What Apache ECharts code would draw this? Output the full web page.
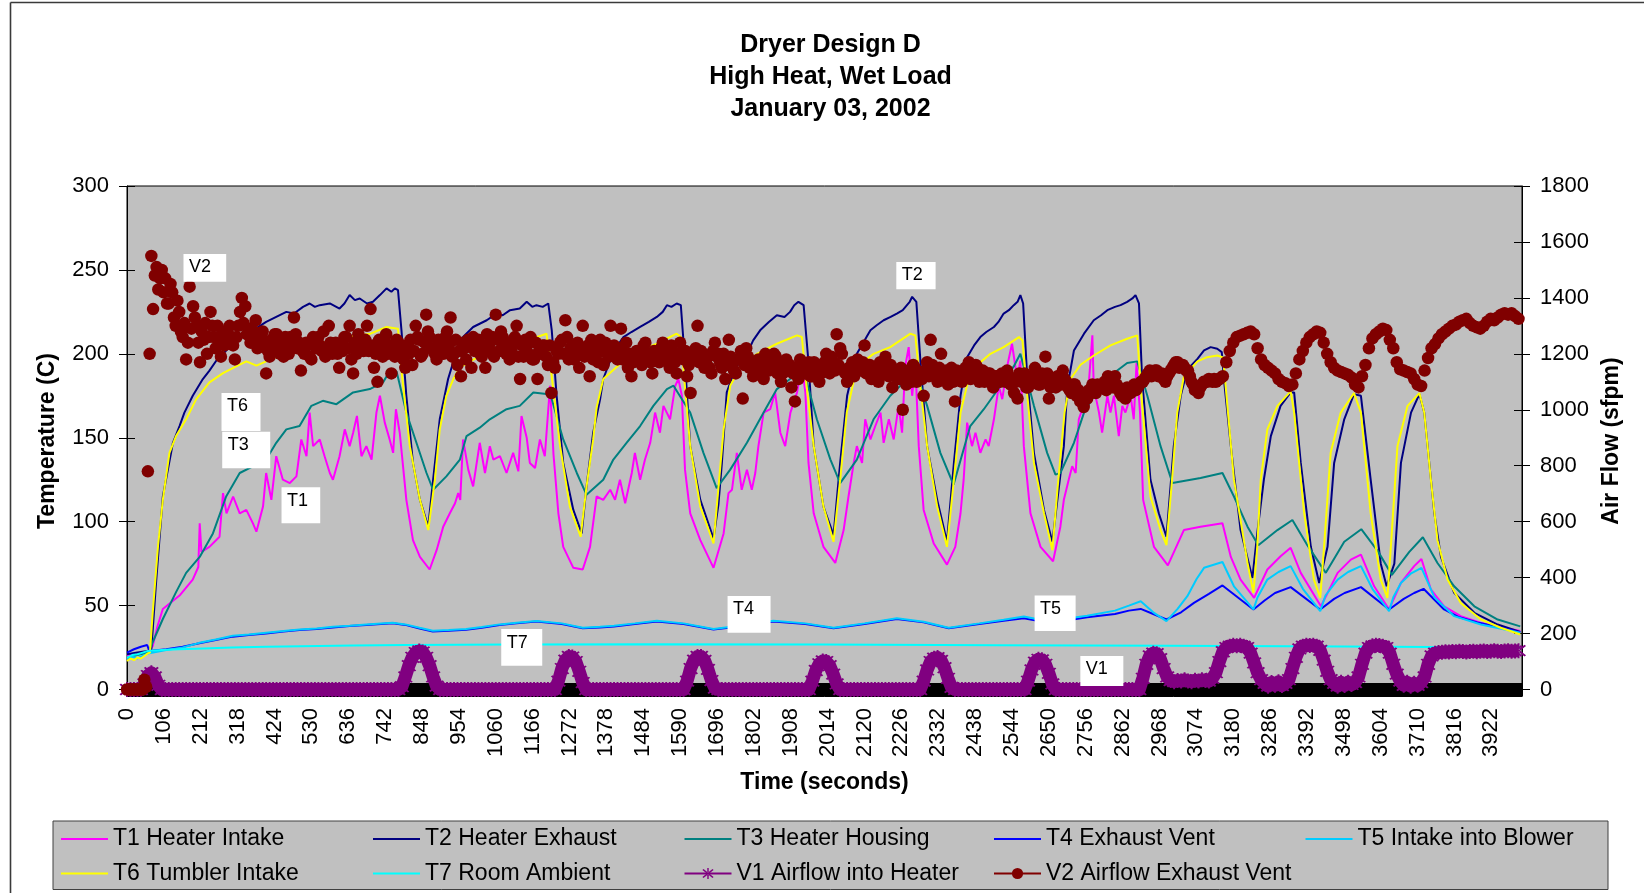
<!DOCTYPE html>
<html>
<head>
<meta charset="utf-8">
<title>Dryer Design D</title>
<script src="https://cdn.jsdelivr.net/npm/echarts@6/dist/echarts.min.js"></script>
<style>
  html, body { margin: 0; padding: 0; background: #ffffff; }
  #chart { width: 1644px; height: 893px; }
</style>
</head>
<body>
<div id="chart"></div>
<script>
// ---- Axis tick labels ----
const TIME_TICKS = [0,106,212,318,424,530,636,742,848,954,1060,1166,1272,1378,1484,1590,1696,1802,1908,2014,2120,2226,2332,2438,2544,2650,2756,2862,2968,3074,3180,3286,3392,3498,3604,3710,3816,3922];
const TEMP_TICKS = [0,50,100,150,200,250,300];
const FLOW_TICKS = [0,200,400,600,800,1000,1200,1400,1600,1800];

// ---- Temperatures (C): [time s, value] ----
const t1HeaterIntake = [
[0,20],[20,21],[40,21.5],[60,22],[74,26],[88,38],[103,48],[127,52],[151,56],[189,65.5],[205,73],[209,99],[214,82],[237,85],[266,91],[276,117],[286,105],[305,115],[324,105],[343,107],[362,99],[372,94],[391,109],[400,129],[415,113],[429,139],[448,125],[468,123],[487,127],[501,149],[516,139],[525,165],[535,145],[554,149],[568,139],[583,129],[592,125],[611,139],[626,155],[640,145],[650,153],[661,163],[674,139],[688,145],[703,137],[717,165],[727,175],[741,159],[755,149],[765,141],[773,167],[784,153],[803,113],[822,89],[842,79],[870,71.5],[890,83],[909,97],[928,105],[943,111],[952,117],[958,113],[966,149],[981,131],[995,121],[1014,147],[1029,129],[1043,145],[1053,137],[1072,139],[1091,129],[1110,141],[1125,130],[1134,163],[1149,150],[1158,135],[1173,132],[1187,149],[1201,139],[1216,181],[1226,140],[1240,105],[1254,85],[1283,72.5],[1310,71.5],[1331,85],[1350,115],[1369,113],[1389,119],[1403,113],[1417,125],[1432,111],[1451,129],[1460,141],[1475,125],[1489,137],[1504,147],[1518,165],[1532,153],[1542,169],[1561,161],[1576,181],[1585,185],[1595,175],[1604,131],[1619,105],[1648,89],[1686,72.5],[1715,93],[1729,117],[1739,119],[1753,141],[1767,119],[1782,131],[1796,119],[1806,129],[1815,145],[1830,165],[1849,167],[1863,177],[1878,153],[1892,145],[1907,165],[1926,177],[1940,192.5],[1950,177],[1959,135],[1974,105],[2002,85],[2036,75.4],[2060,95],[2074,115],[2089,135],[2098,145],[2113,135],[2122,161],[2137,149],[2151,157],[2166,165],[2175,147],[2190,161],[2204,149],[2218,169],[2228,153],[2237,192.5],[2247,204],[2257,175],[2266,194.5],[2276,145],[2290,107],[2319,87],[2357,74.4],[2381,85],[2396,105],[2405,125],[2415,159],[2429,145],[2439,153],[2453,141],[2468,149],[2477,145],[2492,161],[2506,181],[2516,173],[2530,192.5],[2544,206],[2559,185],[2568,196],[2578,145],[2597,105],[2626,85],[2662,76.4],[2683,97],[2693,113],[2707,125],[2717,133],[2727,129],[2736,161],[2746,167],[2760,169],[2775,211],[2779,180],[2794,165],[2803,153],[2818,175],[2827,165],[2837,175],[2851,151],[2861,169],[2870,165],[2885,175],[2894,161],[2902,194.5],[2912,165],[2921,113],[2952,85],[2992,74],[3038,95],[3086,97],[3149,99],[3173,79],[3201,65.5],[3240,54.6],[3278,71.5],[3316,79.4],[3345,84.4],[3374,69.5],[3432,49.6],[3480,69.5],[3518,77.4],[3547,80.4],[3585,61.5],[3628,47.7],[3662,63.5],[3700,73.5],[3721,77.8],[3748,59.6],[3786,49.6],[3834,43.7],[3892,39.7],[4005,34.8]
];
const t2HeaterExhaust = [
[0,21],[30,22],[60,23],[70,24],[84,65],[103,115],[132,147],[151,157],[165,165],[189,175],[218,185],[237,190],[257,196],[290,203],[330,210],[370,215],[400,219],[429,222],[458,225],[480,224],[506,228],[525,230],[540,228],[554,229],[583,230],[611,227],[625,230],[640,235],[655,232],[669,233],[690,230],[707,231],[727,235],[746,239],[760,237],[770,239],[779,238],[789,214],[803,175],[822,135],[842,113],[866,97],[880,125],[899,161],[923,185],[945,200],[966,210],[995,216],[1034,220],[1062,224],[1080,223],[1101,226],[1129,227],[1149,231],[1165,228],[1177,229],[1195,228],[1211,230],[1221,214],[1235,175],[1254,135],[1283,107],[1307,93],[1321,121],[1340,153],[1360,173],[1369,185],[1400,202],[1427,210],[1450,213],[1475,216],[1500,219],[1523,222],[1540,225],[1552,229],[1565,228],[1580,230],[1592,229],[1604,195],[1619,145],[1648,113],[1686,90],[1700,110],[1710,135],[1724,177],[1750,192],[1782,200],[1800,208],[1820,214],[1845,219],[1868,223],[1890,222],[1906,225],[1918,229],[1930,231],[1945,229],[1959,195],[1974,145],[2002,109],[2031,92],[2050,135],[2070,175],[2098,200],[2120,208],[2137,214],[2155,217],[2175,220],[2195,222],[2213,224],[2230,226],[2242,229],[2250,231],[2257,234],[2269,231],[2281,195],[2300,145],[2329,113],[2357,88],[2377,135],[2396,175],[2415,198],[2435,205],[2453,210],[2470,213],[2492,216],[2505,219],[2520,224],[2535,226],[2549,229],[2560,231],[2568,235],[2576,230],[2588,185],[2607,141],[2636,107],[2660,88],[2693,145],[2703,180],[2722,202],[2751,212],[2779,220],[2800,223],[2818,226],[2840,228],[2856,229],[2875,231],[2890,233],[2899,235],[2909,230],[2918,185],[2942,125],[2966,105],[2988,91],[3009,145],[3029,175],[3048,190.5],[3077,197],[3096,202],[3115,204],[3134,203],[3147,201],[3153,185],[3173,145],[3201,95],[3235,66.5],[3250,95],[3268,125],[3288,151],[3316,169],[3345,177],[3355,177],[3374,135],[3403,85],[3427,63.5],[3451,85],[3470,135],[3499,161],[3527,176],[3547,175],[3575,125],[3604,75],[3621,61.5],[3643,75],[3662,135],[3691,165],[3715,176],[3729,165],[3758,105],[3777,79],[3815,57.6],[3873,45.7],[3940,38.7],[4005,34.3]
];
const t3HeaterHousing = [
[0,19],[30,20.5],[60,22],[65,24],[103,42],[141,58],[170,69.5],[209,79],[247,93],[285,115],[324,129],[362,133],[400,137],[429,147],[458,155],[496,157],[530,169],[563,172],[602,170],[650,177],[698,179],[736,183],[746,186.5],[775,189.5],[803,165],[832,147],[861,129],[880,119],[918,127],[957,137],[976,151],[1014,156],[1043,161],[1091,167],[1129,169],[1168,177],[1206,176],[1221,173],[1254,149],[1293,129],[1321,116],[1369,125],[1398,137],[1436,147],[1475,157],[1513,169],[1552,179],[1571,181],[1619,165],[1657,141],[1695,120],[1734,131],[1782,147],[1830,165],[1868,179],[1906,185],[1945,190.5],[1983,161],[2022,137],[2050,123],[2098,137],[2146,161],[2194,175],[2233,183],[2261,194.5],[2300,169],[2338,141],[2376,122],[2424,157],[2463,167],[2511,181],[2549,192.5],[2568,200],[2607,169],[2645,141],[2669,128],[2683,129],[2722,147],[2751,165],[2800,182],[2840,189],[2875,194.5],[2904,195.5],[2933,175],[2971,145],[3005,123],[3086,126],[3149,129],[3182,115],[3221,97],[3252,86],[3307,95],[3350,101],[3393,86],[3446,69.5],[3499,88],[3548,95.5],[3597,82],[3636,68.3],[3686,82],[3725,90.7],[3767,75.4],[3815,61.5],[3873,49.6],[3940,41.7],[4005,37.6]
];
const t4ExhaustVent = [
[0,22],[20,24],[40,25.5],[58,26.5],[64,23],[113,24],[160,25.5],[208,27.5],[255,29.5],[304,31.5],[350,32.5],[400,33.4],[450,34.5],[496,35.4],[545,36],[592,37],[640,37.8],[688,38.4],[730,39],[764,39.5],[800,38.5],[841,36.4],[879,34.6],[925,35],[975,35.6],[1020,36.8],[1071,38.4],[1120,39.5],[1177,40.5],[1250,39],[1310,36.5],[1360,37],[1400,37.5],[1460,39],[1523,40.5],[1600,39],[1686,35.8],[1760,37.5],[1858,40.5],[1950,39],[2031,36.5],[2120,39],[2213,42],[2290,40],[2362,36.5],[2450,39],[2520,41],[2578,42.5],[2640,40],[2683,40.5],[2760,43],[2840,45],[2880,47],[2914,48],[2950,45],[2988,41.7],[3030,46],[3067,51.6],[3110,57],[3149,62],[3238,47.7],[3270,53],[3300,57.5],[3345,61],[3430,47.7],[3470,54],[3500,57.5],[3547,61],[3628,47.7],[3670,54],[3700,57.5],[3727,60],[3786,47.7],[3830,43],[3882,40],[3950,37],[4005,34]
];
const t5IntakeBlower = [
[0,18],[15,19.5],[30,18.5],[45,20],[60,21.5],[113,23.5],[160,25],[208,27.8],[255,29.8],[304,32],[350,32.8],[400,33.8],[450,34.8],[496,35.8],[545,36.4],[592,37.4],[640,38],[688,38.8],[730,39.4],[764,39.8],[800,38.8],[841,36.8],[879,35],[925,35.4],[975,36],[1020,37.2],[1071,38.8],[1120,39.8],[1177,40.8],[1250,39.4],[1310,36.8],[1360,37.4],[1400,38],[1460,39.4],[1523,41],[1600,39.4],[1686,36],[1760,38],[1858,41],[1950,39.4],[2031,36.8],[2120,39.4],[2213,42.5],[2290,40.4],[2362,36.8],[2450,39.4],[2520,41.6],[2578,43.5],[2640,41],[2683,41.7],[2760,44],[2840,47],[2880,50],[2914,52.6],[2950,46],[2988,40.7],[3020,48],[3048,55.6],[3075,66],[3096,72.5],[3149,76],[3182,61.5],[3238,47.7],[3250,55],[3278,65.5],[3310,70],[3345,73.5],[3380,60],[3430,46.7],[3445,56],[3480,65.5],[3510,70],[3547,73.5],[3580,60],[3628,46.7],[3640,55],[3662,63.5],[3690,69],[3721,72.5],[3758,55],[3815,43.7],[3892,38.7],[4005,33.8]
];
const t6TumblerIntake = [
[0,17],[10,18.5],[20,17.5],[30,19],[40,18.5],[50,20],[60,21.5],[66,22],[74,46],[89,85],[103,113],[122,141],[141,151],[170,161],[199,173],[237,183],[276,188.5],[314,192.5],[343,195.5],[372,193],[450,200],[530,205],[631,210],[700,212],[746,216],[779,215],[789,190],[813,145],[842,113],[866,95],[885,125],[899,155],[918,175],[938,185],[957,192],[1050,203],[1150,208],[1206,212],[1216,195],[1245,145],[1273,109],[1304,91],[1321,121],[1340,149],[1350,168],[1369,185],[1450,200],[1523,206],[1580,212],[1592,210],[1604,180],[1619,145],[1648,109],[1686,87],[1700,120],[1715,155],[1734,181],[1763,192],[1811,200],[1868,206],[1926,211],[1940,210],[1954,180],[1974,145],[2002,109],[2031,88],[2050,125],[2069,165],[2098,192.5],[2146,200],[2194,204],[2252,212],[2266,211],[2281,180],[2300,145],[2329,109],[2357,85],[2377,125],[2396,165],[2425,190],[2482,200],[2520,204],[2564,210],[2574,208],[2588,175],[2607,135],[2636,105],[2660,83],[2675,120],[2695,165],[2712,185],[2741,193.5],[2779,199],[2827,205],[2875,209],[2904,211],[2918,170],[2942,115],[2971,95],[2988,86],[3004,125],[3019,165],[3038,186.5],[3077,195.5],[3105,198],[3134,199],[3149,198],[3153,192.5],[3182,125],[3221,75.4],[3238,57.6],[3249,85],[3259,125],[3278,155],[3307,169],[3345,177.6],[3355,165],[3384,105],[3412,65.5],[3430,54.6],[3441,85],[3460,141],[3489,165],[3527,176.6],[3547,165],[3575,105],[3604,65.5],[3623,54.6],[3633,85],[3652,145],[3681,169],[3715,176.6],[3729,165],[3748,125],[3767,89],[3796,65.5],[3834,51.6],[3892,41.7],[3949,36.8],[4005,32.8]
];
const t7RoomAmbient = [
[0,19],[15,20.5],[30,21],[45,22],[60,23],[100,23.5],[150,24],[220,24.5],[300,25],[400,25.4],[500,25.8],[650,26.2],[800,26.5],[1100,26.8],[1500,27],[2000,26.8],[2500,26.4],[3000,26],[3500,25.6],[3750,25.3],[4005,25]
];

// ---- Air flow (sfpm) ----
// readings every 10 s starting at 0 s
const FLOW_STEP = 10;
const v1AirflowHeater = [
0,0,0,0,0,20,50,60,45,15,
0,0,0,0,0,0,0,0,0,0,
0,0,0,0,0,0,0,0,0,0,
0,0,0,0,0,0,0,0,0,0,
0,0,0,0,0,0,0,0,0,0,
0,0,0,0,0,0,0,0,0,0,
0,0,0,0,0,0,0,0,0,0,
0,0,0,0,0,0,0,0,0,10,
45,85,115,132,138,134,115,85,45,12,
0,0,0,0,0,0,0,0,0,0,
0,0,0,0,0,0,0,0,0,0,
0,0,0,0,0,0,0,0,0,0,
0,0,0,0,30,75,105,118,116,100,
65,25,0,0,0,0,0,0,0,0,
0,0,0,0,0,0,0,0,0,0,
0,0,0,0,0,0,0,0,0,0,
0,30,75,105,118,118,104,72,32,5,
0,0,0,0,0,0,0,0,0,0,
0,0,0,0,0,0,0,0,0,0,
0,0,0,0,0,0,0,30,68,92,
102,100,85,55,20,0,0,0,0,0,
0,0,0,0,0,0,0,0,0,0,
0,0,0,0,0,0,0,0,0,30,
70,100,112,114,104,78,40,8,0,0,
0,0,0,0,0,0,0,0,0,0,
0,0,0,0,0,0,0,0,0,30,
70,98,108,106,90,58,20,0,0,0,
0,0,0,0,0,0,0,0,0,0,
0,0,0,0,0,0,0,0,0,0,
0,0,40,90,120,130,128,110,75,45,
32,28,32,30,35,30,28,33,30,35,
32,30,40,60,100,135,150,155,158,156,
158,155,150,130,95,60,35,22,12,25,
15,28,14,22,35,75,115,145,155,158,
157,158,155,140,105,65,35,22,12,26,
14,26,18,25,45,90,130,150,156,158,
157,155,150,130,90,55,30,15,26,12,
22,15,25,45,90,120,130,132,133,135,
134,136,135,137,136,134,136,137,135,137,
138,136,137,139,137,136,138,139,137,138,
139
];
const v2AirflowExhaust = [
0,0,0,0,0,35,780,1550,1480,1430,
1500,1470,1380,1420,1300,1350,1260,1180,1440,1370,
1300,1170,1250,1200,1350,1260,1300,1190,1230,1270,
1260,1180,1300,1400,1370,1290,1260,1320,1230,1280,
1130,1190,1240,1270,1200,1190,1230,1260,1330,1220,
1140,1200,1230,1180,1250,1260,1210,1190,1300,1200,
1240,1150,1210,1260,1300,1130,1200,1250,1210,1300,
1360,1150,1100,1220,1250,1200,1130,1190,1240,1230,
1150,1200,1160,1300,1250,1200,1340,1260,1220,1180,
1240,1200,1280,1330,1200,1160,1120,1220,1250,1150,
1210,1250,1190,1150,1230,1260,1340,1210,1260,1200,
1180,1240,1300,1110,1190,1230,1260,1180,1110,1200,
1230,1160,1060,1150,1200,1250,1320,1180,1230,1210,
1150,1300,1200,1120,1180,1220,1250,1160,1200,1300,
1230,1180,1290,1200,1150,1120,1190,1210,1160,1240,
1180,1130,1200,1170,1240,1190,1150,1200,1130,1240,
1180,1120,1060,1180,1300,1210,1150,1190,1130,1240,
1200,1150,1110,1250,1170,1130,1180,1040,1220,1150,
1120,1170,1140,1110,1180,1150,1200,1130,1100,1170,
1140,1080,1030,1110,1160,1130,1170,1120,1150,1100,
1160,1200,1130,1170,1270,1220,1140,1100,1150,1120,
1180,1140,1230,1160,1110,1150,1100,1130,1190,1120,
1080,1140,1110,1000,1090,1130,1160,1100,1130,1050,
1170,1250,1140,1100,1200,1130,1090,1150,1030,1120,
1100,1150,1170,1120,1160,1100,1140,1110,1130,1080,
1120,1100,1110,1140,1090,1060,1040,1100,1130,1080,
1120,1150,1090,1130,1190,1040,1100,1080,1120,1140,
1100,1070,1090,1050,1030,1010,1040,1060,1080,1090,
1080,1100,1120,1110,1120,1080,1050,1040,1060,1080,
1070,1090,1100,1120,1140,1130,1140,1120,1110,1120,
1140,1160,1170,1160,1150,1140,1100,1070,1060,1090,
1100,1110,1100,1100,1110,1120,1170,1210,1240,1260,
1265,1270,1275,1280,1270,1220,1180,1160,1150,1140,
1130,1110,1100,1095,1085,1090,1130,1180,1210,1240,
1260,1270,1280,1275,1240,1200,1170,1150,1140,1135,
1130,1125,1115,1090,1080,1120,1160,1220,1255,1270,
1280,1290,1285,1250,1220,1170,1145,1140,1135,1130,
1110,1090,1085,1140,1185,1220,1235,1255,1270,1280,
1290,1300,1305,1315,1320,1325,1310,1300,1295,1290,
1300,1315,1325,1320,1330,1340,1345,1340,1345,1335,
1325
];
// exhaust readings taken 5 s after each 10 s mark, up to 3145 s
const V2_HALF_OFFSET = 5;
const v2AirflowExhaustHalf = [
0,0,0,0,0,10,1200,1360,1510,1470,
1420,1380,1450,1330,1390,1280,1310,1240,1290,1330,
1240,1280,1310,1260,1300,1220,1250,1280,1240,1300,
1230,1260,1350,1310,1270,1240,1280,1220,1260,1240,
1210,1250,1270,1220,1240,1260,1200,1230,1270,1240,
1210,1240,1190,1260,1220,1230,1280,1210,1240,1230,
1200,1230,1260,1220,1180,1240,1270,1220,1250,1210,
1230,1200,1250,1190,1270,1230,1210,1250,1200,1180,
1230,1250,1210,1260,1190,1240,1280,1220,1200,1250,
1220,1260,1230,1190,1250,1210,1240,1180,1230,1260,
1240,1200,1230,1270,1210,1190,1250,1280,1220,1240,
1210,1260,1190,1230,1250,1200,1180,1240,1210,1230,
1190,1230,1170,1210,1240,1200,1260,1220,1180,1240,
1220,1190,1230,1250,1200,1170,1210,1240,1190,1220,
1200,1220,1180,1240,1200,1170,1210,1190,1230,1200,
1170,1210,1190,1220,1180,1200,1230,1170,1200,1190,
1210,1160,1190,1220,1170,1200,1180,1150,1210,1190,
1170,1200,1160,1190,1140,1180,1210,1160,1190,1170,
1150,1180,1160,1200,1140,1170,1190,1150,1130,1180,
1160,1130,1150,1180,1140,1160,1120,1170,1150,1130,
1170,1150,1190,1140,1160,1200,1130,1150,1170,1140,
1150,1170,1130,1160,1140,1120,1170,1150,1130,1160,
1130,1110,1150,1120,1140,1100,1150,1130,1110,1140,
1120,1160,1130,1150,1110,1140,1120,1100,1140,1130,
1120,1140,1110,1130,1150,1120,1100,1130,1110,1120,
1110,1130,1100,1120,1090,1110,1130,1100,1080,1110,
1100,1120,1090,1110,1130,1080,1100,1120,1090,1110,
1080,1060,1090,1070,1050,1040,1070,1090,1060,1080,
1090,1070,1100,1080,1090,1060,1070,1080,1060,1090,
1080,1100,1110,1130,1120,1140,1120,1130,1100,1130,
1150,1170,1150,1160,1140,1120,1090,1080,1080,1100,
1100,1105,1110,1105,1115
];
// zero-flow floor drawn beneath the heater airflow trace
const flowFloor = [[0, 0], [4010, 0]];

// ---- Callout labels (anchor = top-left corner in time / temperature units) ----
const CALLOUTS = [
  { text: 'V2', at: [162.4, 259.5], size: [42.7, 27.7] },
  { text: 'T6', at: [271.7, 176.7], size: [39, 38] },
  { text: 'T3', at: [273.7, 153.6], size: [48, 36.6] },
  { text: 'T1', at: [444.2, 120.5], size: [38.7, 36] },
  { text: 'T7', at: [1075.8, 36], size: [41, 36.7] },
  { text: 'T4', at: [1726.4, 55.7], size: [43, 36.7] },
  { text: 'T2', at: [2211.4, 254.7], size: [39.3, 27.3] },
  { text: 'T5', at: [2609, 56], size: [41, 35.5] },
  { text: 'V1', at: [2740.4, 20], size: [43, 30] }
];

// ---- Styling ----
const FONT = '"Liberation Sans", Arial, Helvetica, sans-serif';
const STAR = 'path://M-0.1,-1L0.1,-1L0.1,1L-0.1,1Z M0.629,0.785L0.785,0.629L-0.629,-0.785L-0.785,-0.629Z M0.785,-0.629L0.629,-0.785L-0.785,0.629L-0.629,0.785Z';
const TEMP_MIN = -3.87, TEMP_MAX = 300, FLOW_MIN = -23.2, FLOW_MAX = 1800;

const flowPairs = (values, offset) => values.map((v, i) => [offset + i * FLOW_STEP, v]);
const v2Points = flowPairs(v2AirflowExhaust, 0)
  .concat(flowPairs(v2AirflowExhaustHalf, V2_HALF_OFFSET))
  .sort((a, b) => a[0] - b[0]);

function tempLine(name, data, color) {
  return {
    name, type: 'line', data, yAxisIndex: 0,
    symbol: 'none', showSymbol: false,
    lineStyle: { color, width: 2 }, itemStyle: { color },
    emphasis: { disabled: true }, z: 2
  };
}

const plain = v => String(v);
const axisText = { fontSize: 22, fontFamily: FONT, color: '#000' };
const nameText = { fontSize: 23, fontWeight: 'bold', fontFamily: FONT, color: '#000' };

const LEGEND_SLOTS = [
  ['T1 Heater Intake', 60, 827.5],
  ['T2 Heater Exhaust', 372, 827.5],
  ['T3 Heater Housing', 683.5, 827.5],
  ['T4 Exhaust Vent', 993, 827.5],
  ['T5 Intake into Blower', 1304.5, 827.5],
  ['T6 Tumbler Intake', 60, 862],
  ['T7 Room Ambient', 372, 862],
  ['V1 Airflow into Heater', 683.5, 862],
  ['V2 Airflow Exhaust Vent', 993, 862]
];

const titleStyle = { font: 'bold 25px ' + FONT, fill: '#000', align: 'center', verticalAlign: 'middle', textAlign: 'center', textVerticalAlign: 'middle' };
const baseGraphics = [
  // outer frame
  { type: 'line', z: 1, shape: { x1: 10.5, y1: 2.5, x2: 1644, y2: 2.5 }, style: { stroke: '#3a3a3a', lineWidth: 1.6 } },
  { type: 'line', z: 1, shape: { x1: 10.5, y1: 2.5, x2: 10.5, y2: 893 }, style: { stroke: '#3a3a3a', lineWidth: 1.6 } },
  // legend box
  { type: 'rect', z: 1, shape: { x: 53, y: 821, width: 1555, height: 68.5 }, style: { fill: '#C0C0C0', stroke: '#404040', lineWidth: 1 } },
  // title
  { type: 'text', z: 5, x: 830.5, y: 45, style: Object.assign({ text: 'Dryer Design D' }, titleStyle) },
  { type: 'text', z: 5, x: 830.5, y: 77.3, style: Object.assign({ text: 'High Heat, Wet Load' }, titleStyle) },
  { type: 'text', z: 5, x: 830.5, y: 109.3, style: Object.assign({ text: 'January 03, 2002' }, titleStyle) }
];

const option = {
  animation: false,
  backgroundColor: '#ffffff',
  textStyle: { fontFamily: FONT },
  grid: {
    left: 127, right: 122, top: 186, bottom: 197,
    show: true, backgroundColor: '#C0C0C0', borderColor: '#000', borderWidth: 1
  },
  xAxis: {
    type: 'value', min: 0, max: 4010,
    axisLine: { show: true, onZero: false, lineStyle: { color: '#000', width: 1 } },
    axisTick: { show: false },
    splitLine: { show: false },
    axisLabel: { customValues: TIME_TICKS, formatter: plain, rotate: 90, margin: 12, hideOverlap: false, ...axisText },
    name: 'Time (seconds)', nameLocation: 'middle', nameGap: 75, nameTextStyle: nameText
  },
  yAxis: [
    {
      type: 'value', position: 'left', min: TEMP_MIN, max: TEMP_MAX,
      axisLine: { show: true, onZero: false, lineStyle: { color: '#000', width: 1 } },
      axisTick: { show: true, customValues: TEMP_TICKS, length: 8, lineStyle: { color: '#000' } },
      axisLabel: { customValues: TEMP_TICKS, formatter: plain, margin: 18, ...axisText },
      splitLine: { show: false },
      name: 'Temperature (C)', nameLocation: 'middle', nameRotate: 90, nameGap: 68, nameTextStyle: nameText
    },
    {
      type: 'value', position: 'right', min: FLOW_MIN, max: FLOW_MAX,
      axisLine: { show: true, onZero: false, lineStyle: { color: '#000', width: 1 } },
      axisTick: { show: true, customValues: FLOW_TICKS, length: 8, lineStyle: { color: '#000' } },
      axisLabel: { customValues: FLOW_TICKS, formatter: plain, margin: 18, ...axisText },
      splitLine: { show: false },
      name: 'Air Flow (sfpm)', nameLocation: 'middle', nameRotate: 90, nameGap: 74, nameTextStyle: nameText
    },
    {
      type: 'value', position: 'left', min: TEMP_MIN, max: TEMP_MAX,
      axisLine: { show: false },
      axisTick: { show: true, inside: true, customValues: TEMP_TICKS, length: 8, lineStyle: { color: '#000' } },
      axisLabel: { show: false }, splitLine: { show: false }
    },
    {
      type: 'value', position: 'right', min: FLOW_MIN, max: FLOW_MAX,
      axisLine: { show: false },
      axisTick: { show: true, inside: true, customValues: FLOW_TICKS, length: 8, lineStyle: { color: '#000' } },
      axisLabel: { show: false }, splitLine: { show: false }
    }
  ],
  legend: LEGEND_SLOTS.map(([name, left, top]) => ({
    data: [name], left, top, orient: 'horizontal', padding: 0,
    itemWidth: 47, itemHeight: 14, itemGap: 0, selectedMode: false,
    lineStyle: { width: 2, opacity: 1 },
    // temperature traces have no markers, so their legend keys show the line only
    itemStyle: name.charAt(0) === 'T' ? { opacity: 0 } : {},
    textStyle: { fontSize: 23, fontFamily: FONT, color: '#000' }
  })),
  graphic: { elements: baseGraphics },
  series: [
    {
      name: 'floor', type: 'line', yAxisIndex: 1, data: flowFloor,
      symbol: 'none', lineStyle: { color: '#000', width: 13 }, emphasis: { disabled: true }, z: 1
    },
    tempLine('T1 Heater Intake', t1HeaterIntake, '#FF00FF'),
    tempLine('T2 Heater Exhaust', t2HeaterExhaust, '#000080'),
    tempLine('T3 Heater Housing', t3HeaterHousing, '#008080'),
    tempLine('T4 Exhaust Vent', t4ExhaustVent, '#0000FF'),
    tempLine('T5 Intake into Blower', t5IntakeBlower, '#00CCFF'),
    tempLine('T6 Tumbler Intake', t6TumblerIntake, '#FFFF00'),
    tempLine('T7 Room Ambient', t7RoomAmbient, '#00FFFF'),
    {
      name: 'V1 Airflow into Heater', type: 'line', yAxisIndex: 1, data: flowPairs(v1AirflowHeater, 0),
      symbol: STAR, symbolSize: 15, showSymbol: true, showAllSymbol: true,
      lineStyle: { color: '#800080', width: 13, join: 'round' },
      itemStyle: { color: '#800080' }, emphasis: { disabled: true }, z: 3
    },
    {
      name: 'V2 Airflow Exhaust Vent', type: 'line', yAxisIndex: 1, data: v2Points,
      symbol: 'circle', symbolSize: 12.5, showSymbol: true, showAllSymbol: true,
      lineStyle: { color: '#800000', width: 2, opacity: 0 },
      itemStyle: { color: '#800000' }, emphasis: { disabled: true }, z: 4
    }
  ]
};

const chart = echarts.init(document.getElementById('chart'), null, { renderer: 'canvas' });
chart.setOption(option);

// callout boxes placed at their data anchors
const calloutGraphics = [];
CALLOUTS.forEach(c => {
  const [x, y] = chart.convertToPixel({ xAxisIndex: 0, yAxisIndex: 0 }, c.at);
  calloutGraphics.push({
    type: 'rect', z: 100, shape: { x, y, width: c.size[0], height: c.size[1] },
    style: { fill: '#ffffff' }
  });
  calloutGraphics.push({
    type: 'text', z: 101, x: x + 5.5, y: y + 13.5,
    style: { text: c.text, font: '18px ' + FONT, fill: '#000', align: 'left', verticalAlign: 'middle', textAlign: 'left', textVerticalAlign: 'middle' }
  });
});
chart.setOption({ graphic: { elements: baseGraphics.concat(calloutGraphics) } });
</script>
</body>
</html>
